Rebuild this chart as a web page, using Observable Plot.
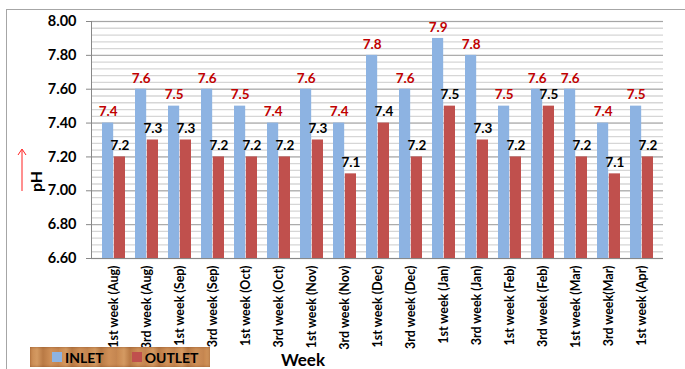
<!DOCTYPE html>
<html><head><meta charset="utf-8">
<script src="https://cdn.jsdelivr.net/npm/d3@7"></script>
<script src="https://cdn.jsdelivr.net/npm/@observablehq/plot@0.6"></script>
<style>
body{margin:0;background:#fff;}
#wrap{position:relative;width:685px;height:369px;overflow:hidden;font-family:Lato,"Open Sans",sans-serif;}
#border{position:absolute;left:6px;top:9px;width:720px;height:420px;border:1px solid #a6a6a6;box-sizing:border-box;}
#chart{position:absolute;left:0;top:0;}
#chart svg{font-family:Lato,"Open Sans",sans-serif;}
#chart [aria-label="y-axis tick label"] text{font-size:14.5px;font-weight:bold;fill:#000;}
#chart [aria-label="x-axis tick label"] text{font-size:12.5px;font-weight:bold;fill:#000;}
#legend{position:absolute;left:30px;top:347px;width:180px;height:20px;
 background:repeating-linear-gradient(90deg,#c88850 0px,#d49a62 7px,#b97a45 13px,#cf9058 21px,#c48550 29px);
 box-shadow:inset 0 0 3px rgba(120,60,20,.6);display:flex;align-items:center;font-weight:bold;font-size:14px;color:#000;}
.sw{display:inline-block;width:10px;height:10px;margin-right:3px;}
#arrow{position:absolute;left:16px;top:146px;}
#xlab{position:absolute;left:263px;top:349px;width:80px;text-align:center;font-weight:bold;font-size:17px;}
#ylab{position:absolute;left:15px;top:172px;width:40px;text-align:center;font-weight:bold;font-size:16px;transform:rotate(-90deg);}
</style></head>
<body>
<div id="wrap">
<div id="border"></div>
<div id="chart"></div>
<svg id="arrow" width="12" height="48"><line x1="6" y1="4" x2="6" y2="45" stroke="#ff2020" stroke-width="1"/><path d="M2,9 L6,3 L10,9" fill="none" stroke="#ff2020" stroke-width="1"/></svg>
<div id="ylab">pH</div>
<div id="xlab">Week</div>
<div id="legend"><span style="width:22px"></span><span class="sw" style="background:#8db3e2"></span>INLET<span style="width:28px"></span><span class="sw" style="background:#c0504d"></span>OUTLET</div>
</div>
<script>
const weeks = ["1st week (Aug)","3rd week (Aug)","1st week (Sep)","3rd week (Sep)","1st week (Oct)","3rd week (Oct)","1st week (Nov)","3rd week (Nov)","1st week (Dec)","3rd week (Dec)","1st week (Jan)","3rd week (Jan)","1st week (Feb)","3rd week (Feb)","1st week (Mar)","3rd week(Mar)","1st week (Apr)"];
const inlet  = [7.4,7.6,7.5,7.6,7.5,7.4,7.6,7.4,7.8,7.6,7.9,7.8,7.5,7.6,7.6,7.4,7.5];
const outlet = [7.2,7.3,7.3,7.2,7.2,7.2,7.3,7.1,7.4,7.2,7.5,7.3,7.2,7.5,7.2,7.1,7.2];
const yTicks = [6.6,6.8,7.0,7.2,7.4,7.6,7.8,8.0];
const seriesNames = ["INLET","OUTLET"];
const colors = ["#8db3e2","#c0504d"];

const rows = weeks.map((w,i)=>({week:w, inlet:inlet[i], outlet:outlet[i]}));
const W=685,H=369,mL=91,mR=22,mT=21,mB=111;
const bw=(W-mL-mR)/weeks.length, outer=5, barW=(bw-2*outer)/2;
const minor = d3.range(0,36).map(i=>+(6.6+i*0.04).toFixed(2));

const plot = Plot.plot({
  width:W,height:H,marginLeft:mL,marginRight:mR,marginTop:mT,marginBottom:mB,
  style:{background:"transparent",overflow:"visible"},
  x:{domain:weeks,padding:0},
  y:{domain:[6.6,8.0]},
  marks:[
    Plot.ruleY(minor,{stroke:"#d6d6d6",strokeWidth:1.3}),
    Plot.ruleY(yTicks,{stroke:"#a6a6a6",strokeWidth:1}),
    Plot.barY(rows,{x:"week",y1:6.6,y2:"inlet",fill:colors[0],insetLeft:outer,insetRight:bw-outer-barW}),
    Plot.barY(rows,{x:"week",y1:6.6,y2:"outlet",fill:colors[1],insetLeft:outer+barW,insetRight:outer}),
    Plot.text(rows,{x:"week",y:"inlet",text:d=>d.inlet.toFixed(1),dx:-(bw/2-outer-barW/2),dy:-11,fill:"#c00000",fontWeight:"bold",fontSize:13.5}),
    Plot.text(rows,{x:"week",y:"outlet",text:d=>d.outlet.toFixed(1),dx:(bw/2-outer-barW/2),dy:-11,fill:"#000",fontWeight:"bold",fontSize:13.5}),
    Plot.axisY({ticks:yTicks,tickFormat:d=>d.toFixed(2),tickSize:5,tickPadding:10,stroke:"#888",label:null}),
    Plot.axisX({tickRotate:-90,tickSize:0,tickPadding:7,label:null}),
    Plot.frame({anchor:"left",stroke:"#888"}),
    Plot.ruleY([6.6],{stroke:"#888"})
  ]
});
document.getElementById("chart").appendChild(plot);
</script>
</body></html>
